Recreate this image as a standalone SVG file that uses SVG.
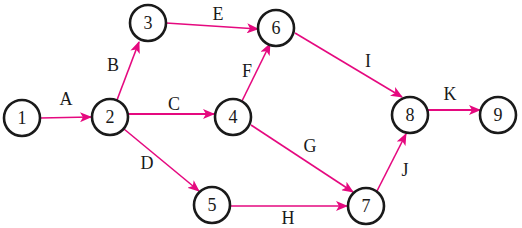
<svg xmlns="http://www.w3.org/2000/svg" width="522" height="228" viewBox="0 0 522 228">
<style>
.n{fill:#fff;stroke:#1a1a1a;stroke-width:2.6}
.t{font-family:"Liberation Serif",serif;font-size:18px;fill:#1a1a1a;text-anchor:middle}
.e{stroke:#e5097f;stroke-width:1.6;fill:none;marker-end:url(#ah)}
.w{stroke-width:2.2}
</style>
<defs>
<marker id="ah" viewBox="0 0 12 10" refX="11" refY="5" markerWidth="12" markerHeight="10" markerUnits="userSpaceOnUse" orient="auto">
<path d="M0,0 L12,5 L0,10 L3,5 Z" fill="#e5097f"/>
</marker>
</defs>
<g id="edges">
<line class="e" x1="40" y1="118" x2="91" y2="117"/>
<line class="e" x1="117" y1="100" x2="139" y2="42"/>
<line class="e w" x1="128" y1="114" x2="214" y2="114"/>
<line class="e" x1="124" y1="129" x2="199" y2="191"/>
<line class="e" x1="166" y1="23" x2="258" y2="29"/>
<line class="e" x1="242" y1="101" x2="270" y2="44"/>
<line class="e" x1="251" y1="125" x2="353" y2="192"/>
<line class="e" x1="230" y1="206" x2="347" y2="206"/>
<line class="e" x1="295" y1="33" x2="402" y2="97"/>
<line class="e" x1="377" y1="191" x2="406" y2="134"/>
<line class="e w" x1="428" y1="110" x2="480" y2="110"/>
<text class="t" x="66" y="105">A</text>
<text class="t" x="113" y="71">B</text>
<text class="t" x="174" y="110">C</text>
<text class="t" x="147" y="169">D</text>
<text class="t" x="218" y="20">E</text>
<text class="t" x="247" y="77">F</text>
<text class="t" x="310" y="152">G</text>
<text class="t" x="288" y="224">H</text>
<text class="t" x="368" y="67">I</text>
<text class="t" x="405" y="176">J</text>
<text class="t" x="450" y="100">K</text>
</g>
<g id="n1"><circle class="n" cx="22" cy="118" r="18"/><text class="t" x="22" y="124">1</text></g>
<g id="n2"><circle class="n" cx="110" cy="117" r="18"/><text class="t" x="110" y="123">2</text></g>
<g id="n3"><circle class="n" cx="148" cy="23" r="18"/><text class="t" x="148" y="29">3</text></g>
<g id="n4"><circle class="n" cx="233" cy="117" r="18"/><text class="t" x="233" y="123">4</text></g>
<g id="n5"><circle class="n" cx="212" cy="205" r="18"/><text class="t" x="212" y="211">5</text></g>
<g id="n6"><circle class="n" cx="276" cy="28" r="18"/><text class="t" x="276" y="34">6</text></g>
<g id="n7"><circle class="n" cx="366" cy="206" r="18"/><text class="t" x="366" y="212">7</text></g>
<g id="n8"><circle class="n" cx="410" cy="115" r="18"/><text class="t" x="410" y="121">8</text></g>
<g id="n9"><circle class="n" cx="498" cy="115" r="18"/><text class="t" x="498" y="121">9</text></g>
</svg>
